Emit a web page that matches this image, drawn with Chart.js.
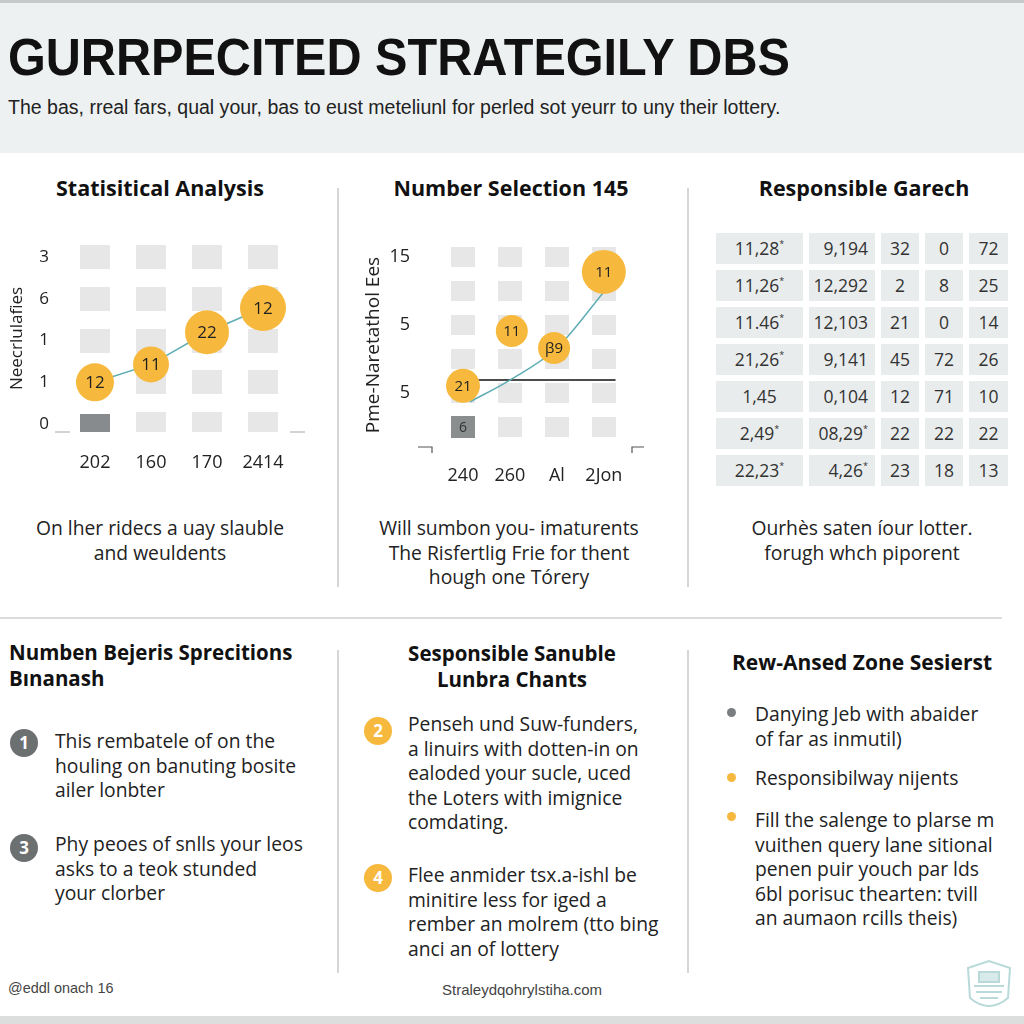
<!DOCTYPE html>
<html>
<head>
<meta charset="utf-8">
<script src="https://cdn.jsdelivr.net/npm/chart.js@4.4.0/dist/chart.umd.min.js"></script>
<style>
html, body { margin: 0; padding: 0; }
body { width: 1024px; height: 1024px; position: relative; overflow: hidden; background: #fff;
  font-family: "Open Sans", "Noto Sans", sans-serif; color: #222; }
.abs { position: absolute; white-space: nowrap; }
#header { left: 0; top: 0; width: 1024px; height: 153px; background: #eef1f1; border-top: 3px solid #c6caca; box-sizing: border-box; }
#title { left: 8px; top: 27px; font-family: "Liberation Sans", Arial, sans-serif; font-weight: bold; font-size: 52px; line-height: 60px; color: #111; transform-origin: 0 0; }
#subtitle { left: 8px; top: 95px; font-family: "Liberation Sans", Arial, sans-serif; font-size: 19.5px; line-height: 24px; color: #222; transform-origin: 0 0; }
.h { font-weight: 700; font-size: 21px; line-height: 25px; color: #111; }
.ht { font-size: 21.5px; }
.h2 { font-size: 20.5px; line-height: 26.2px; }
.p { font-size: 19.3px; line-height: 24.5px; color: #222; }
.c { text-align: center; }
.vline { width: 1.5px; background: #d6d6d6; }
.hline { height: 1.5px; background: #dcdcdc; }
.badge { width: 28px; height: 28px; border-radius: 50%; color: #fff; font-weight: 700; font-size: 17px; line-height: 28px; text-align: center; }
.dot { width: 9px; height: 9px; border-radius: 50%; }
#table { left: 716px; top: 233px; display: grid; grid-template-columns: 87px 66px 38px 38px 39px; grid-auto-rows: 31px; column-gap: 6px; row-gap: 6px; }
#table div { background: #e9ecec; font-size: 17.5px; line-height: 31px; color: #333; text-align: center; }
#table div.r { text-align: right; padding-right: 7px; }
#table sup { font-size: 9px; line-height: 0; vertical-align: baseline; position: relative; top: -8px; }
.foot { font-family: "Liberation Sans", Arial, sans-serif; font-size: 15px; line-height: 18px; color: #444; transform-origin: 0 0; }
canvas { position: absolute; }
</style>
</head>
<body>
<div id="header" class="abs"></div>
<div id="title" class="abs">GURRPECITED STRATEGILY DBS</div>
<div id="subtitle" class="abs">The bas, rreal fars, qual your, bas to eust meteliunl for perled sot yeurr to uny their lottery.</div>

<!-- column separators -->
<div class="abs vline" style="left:337px;top:188px;height:399px"></div>
<div class="abs vline" style="left:687px;top:188px;height:399px"></div>
<div class="abs hline" style="left:0;top:617px;width:1002px"></div>
<div class="abs vline" style="left:337px;top:650px;height:323px"></div>
<div class="abs vline" style="left:687px;top:650px;height:323px"></div>

<!-- top section titles -->
<div class="abs h ht c" style="left:0;width:320px;top:175px">Statisitical Analysis</div>
<div class="abs h ht c" style="left:351px;width:320px;top:175px">Number Selection 145</div>
<div class="abs h ht c" style="left:704px;width:320px;top:175px">Responsible Garech</div>

<canvas id="statChart" width="320" height="245" style="left:0;top:235px"></canvas>
<canvas id="selChart" width="330" height="265" style="left:345px;top:235px"></canvas>
<div id="table" class="abs"></div>

<div class="abs p c" style="left:-10px;width:340px;top:516px">On lher ridecs a uay slauble<br>and weuldents</div>
<div class="abs p c" style="left:339px;width:340px;top:516px">Will sumbon you- imaturents<br>The Risfertli&#609; Frie for thent<br>hough one Tórery</div>
<div class="abs p c" style="left:692px;width:340px;top:516px">Ourhès saten íour lotter.<br>forugh whch piporent</div>

<!-- bottom section -->
<div class="abs h h2" style="left:9px;top:639px">Numben Bejeris Sprecitions<br>Bınanash</div>
<div class="abs badge" style="left:10px;top:729px;background:#6c7071">1</div>
<div class="abs p" style="left:55px;top:729px">This rembatele of on the<br>houling on banuting bosite<br>ailer lonbter</div>
<div class="abs badge" style="left:10px;top:834px;background:#6c7071">3</div>
<div class="abs p" style="left:55px;top:832px">Phy peoes of snlls your leos<br>asks to a teok stunded<br>your clorber</div>

<div class="abs h h2 c" style="left:352px;width:320px;top:640px">Sesponsible Sanuble<br>Lunbra Chants</div>
<div class="abs badge" style="left:364px;top:717px;background:#f6b93e">2</div>
<div class="abs p" style="left:408px;top:712px">Penseh und Suw-funders,<br>a linuirs with dotten-in on<br>ealoded your sucle, uced<br>the Loters with imignice<br>comdating.</div>
<div class="abs badge" style="left:364px;top:864px;background:#f6b93e">4</div>
<div class="abs p" style="left:408px;top:863px">Flee anmider tsx.a-ishl be<br>minitire less for iged a<br>rember an molrem (tto bing<br>anci an of lottery</div>

<div class="abs h c" style="left:702px;width:320px;top:650px">Rew-Ansed Zone Sesierst</div>
<div class="abs dot" style="left:727px;top:708px;background:#7b7e80"></div>
<div class="abs p" style="left:755px;top:702px">Danying Jeb with abaider<br>of far as inmutil)</div>
<div class="abs dot" style="left:727px;top:773px;background:#f6b93e"></div>
<div class="abs p" style="left:755px;top:766px">Responsibilway nijents</div>
<div class="abs dot" style="left:727px;top:812px;background:#f6b93e"></div>
<div class="abs p" style="left:755px;top:808px">Fill the salenge to plarse m<br>vuithen query lane sitional<br>penen puir youch par lds<br>6bl porisuc thearten: tvill<br>an aumaon rcills theis)</div>

<!-- footer -->
<div id="footL" class="abs foot" style="left:8px;top:979px">@eddl onach 16</div>
<div id="footC" class="abs foot" style="left:442px;top:981px">Straleydqohrylstiha.com</div>
<svg class="abs" style="left:962px;top:958px" width="54" height="58" viewBox="0 0 54 58">
  <g fill="none" stroke="#a9d2d2" stroke-width="2" opacity="0.8">
    <path d="M6 10 L27 3 L48 10 L46 40 Q27 56 8 40 Z"/>
    <rect x="17" y="14" width="20" height="10" fill="#cfe6e6"/>
    <path d="M12 28 L42 28 M14 34 L40 34 M18 40 L36 40"/>
  </g>
</svg>
<div class="abs" style="left:0;top:1016px;width:1024px;height:8px;background:#dcdede"></div>

<script>
// ===== 데이터 =====
// Statistical Analysis chart
const statLabels = ['202', '160', '170', '2414'];
const statTicks = ['0', '1', '1', '6', '3'];
const statValues = [1.0, 1.43, 2.2, 2.78];
const statBubbleText = ['12', '11', '22', '12'];
const statBubbleSize = [19, 18, 22, 23];

// Number Selection chart
const selLabels = ['240', '260', 'Al', '2Jon'];
const selTickValues = [1, 3, 5];
const selTickLabels = ['5', '5', '15'];
const selRows = 6;
const selBubbleX = [0, 1.04, 1.94, 3];
const selBubbleY = [1.21, 2.82, 2.32, 4.56];
const selBubbleText = ['21', '11', 'β9', '11'];
const selBubbleSize = [17, 16, 16, 22];
const selCurveX = [0.15, 1, 2, 3];
const selCurveY = [0.74, 1.38, 2.32, 3.97];
const selLevelX = [0.3, 3.25];
const selLevel = 1.38;

// Responsible table columns
const tableCol1 = ['11,28*', '11,26*', '11.46*', '21,26*', '1,45', '2,49*', '22,23*'];
const tableCol2 = ['9,194', '12,292', '12,103', '9,141', '0,104', '08,29*', '4,26*'];
const tableCol3 = ['32', '2', '21', '45', '12', '22', '23'];
const tableCol4 = ['0', '8', '0', '72', '71', '22', '18'];
const tableCol5 = ['72', '25', '14', '26', '10', '22', '13'];

const ORANGE = '#f6b93e';
const TEAL = '#5fadb3';

Chart.defaults.font.family = '"Open Sans", "Noto Sans", sans-serif';
Chart.defaults.color = '#222';

// 텍스트 폭 맞추기
function fitWidth(id, w) {
  const el = document.getElementById(id);
  el.style.transform = 'scaleX(' + (w / el.offsetWidth) + ')';
}
fitWidth('title', 782);
fitWidth('subtitle', 772);
fitWidth('footL', 105);
fitWidth('footC', 160);

// ===== 표 =====
(function buildTable() {
  const table = document.getElementById('table');
  const sup = s => s.replace('*', '<sup>*</sup>');
  tableCol1.forEach((_, i) => {
    [tableCol1[i], tableCol2[i], tableCol3[i], tableCol4[i], tableCol5[i]].forEach((v, j) => {
      const cell = document.createElement('div');
      if (j === 1) cell.className = 'r';
      cell.innerHTML = sup(v);
      table.appendChild(cell);
    });
  });
})();

// 셀 이미지 (pointStyle)
function makeCell(w, h, color) {
  const c = document.createElement('canvas');
  c.width = w; c.height = h;
  const g = c.getContext('2d');
  g.fillStyle = color;
  g.fillRect(0, 0, w, h);
  return c;
}

// 원 안의 숫자
const bubbleTextPlugin = {
  id: 'bubbleText',
  afterDatasetsDraw(chart) {
    const ctx = chart.ctx;
    chart.data.datasets.forEach((ds, i) => {
      if (!ds.bubbleText) return;
      chart.getDatasetMeta(i).data.forEach((pt, j) => {
        ctx.save();
        ctx.font = ds.bubbleFont;
        ctx.fillStyle = ds.bubbleColor || '#222';
        ctx.textAlign = 'center';
        ctx.textBaseline = 'middle';
        ctx.fillText(ds.bubbleText[j], pt.x, pt.y + 1);
        ctx.restore();
      });
    });
  }
};

// 축 모서리 표시
const cornerStubs = {
  id: 'cornerStubs',
  afterDraw(chart, args, opts) {
    const { left, right, bottom } = chart.chartArea;
    const ctx = chart.ctx;
    ctx.save();
    ctx.strokeStyle = opts.color;
    ctx.lineWidth = opts.width;
    ctx.beginPath();
    if (opts.hook) {
      ctx.moveTo(left - 14, bottom); ctx.lineTo(left, bottom); ctx.lineTo(left, bottom + 6);
      ctx.moveTo(right, bottom + 6); ctx.lineTo(right, bottom); ctx.lineTo(right + 12, bottom);
    } else {
      ctx.moveTo(left - 6, bottom); ctx.lineTo(left + 9, bottom);
      ctx.moveTo(right - 7, bottom); ctx.lineTo(right + 8, bottom);
    }
    ctx.stroke();
    ctx.restore();
  }
};

function fixedAxis(size, horizontal) {
  return function (scale) {
    if (horizontal) { scale.height = size; scale.paddingLeft = 0; scale.paddingRight = 0; }
    else { scale.width = size; scale.paddingTop = 0; scale.paddingBottom = 0; }
  };
}

// ===== 차트 1 =====
const statCells = [];
statLabels.forEach((_, i) => {
  statTicks.forEach((_, j) => { if (i || j) statCells.push({ x: i, y: j }); });
});

new Chart(document.getElementById('statChart'), {
  type: 'line',
  data: {
    datasets: [{
      data: statValues.map((v, i) => ({ x: i, y: v })),
      borderColor: TEAL,
      borderWidth: 1.5,
      pointRadius: statBubbleSize,
      pointBackgroundColor: ORANGE,
      pointBorderWidth: 0,
      bubbleText: statBubbleText,
      bubbleFont: '17px "Open Sans"',
      clip: false,
      order: 0
    }, {
      type: 'scatter',
      data: [{ x: 0, y: 0 }],
      pointStyle: makeCell(30, 21, '#888b8d'),
      pointRadius: 12,
      order: 1
    }, {
      type: 'scatter',
      data: statCells,
      pointStyle: makeCell(30, 24, '#e7e7e7'),
      pointRadius: 12,
      order: 2
    }]
  },
  options: {
    responsive: false,
    animation: false,
    events: [],
    layout: { autoPadding: false, padding: { top: 10, right: 23, left: 0, bottom: 0 } },
    plugins: {
      legend: { display: false },
      tooltip: { enabled: false },
      cornerStubs: { color: '#c4c6c6', width: 1.5 }
    },
    scales: {
      x: {
        type: 'linear', min: -0.607, max: 3.607,
        grid: { display: false, drawTicks: false }, border: { display: false },
        afterBuildTicks: s => { s.ticks = statLabels.map((_, i) => ({ value: i })); },
        afterFit: fixedAxis(48, true),
        ticks: { padding: 20, font: { size: 18 }, callback: v => statLabels[Math.round(v)] }
      },
      y: {
        type: 'linear', min: -0.19, max: 4.29,
        grid: { display: false, drawTicks: false }, border: { display: false },
        afterBuildTicks: s => { s.ticks = statTicks.map((_, i) => ({ value: i })); },
        afterFit: fixedAxis(61, false),
        ticks: { padding: 12, font: { size: 17 }, callback: v => statTicks[Math.round(v)] },
        title: { display: true, text: 'Neecrlulafies', font: { size: 17 }, padding: { top: 7, bottom: 0 } }
      }
    }
  },
  plugins: [bubbleTextPlugin, cornerStubs]
});

// ===== 차트 2 =====
const selCells = [];
selLabels.forEach((_, i) => {
  for (let j = 0; j < selRows; j++) { if (i || j) selCells.push({ x: i, y: j }); }
});

new Chart(document.getElementById('selChart'), {
  type: 'line',
  data: {
    datasets: [{
      type: 'scatter',
      data: selBubbleX.map((x, i) => ({ x: x, y: selBubbleY[i] })),
      pointRadius: selBubbleSize,
      pointBackgroundColor: ORANGE,
      pointBorderWidth: 0,
      bubbleText: selBubbleText,
      bubbleFont: '500 15px "Open Sans"',
      clip: false,
      order: 0
    }, {
      data: selCurveX.map((x, i) => ({ x: x, y: selCurveY[i] })),
      borderColor: TEAL,
      borderWidth: 1.5,
      pointRadius: 0,
      cubicInterpolationMode: 'monotone',
      order: 1
    }, {
      data: selLevelX.map(x => ({ x: x, y: selLevel })),
      borderColor: '#111',
      borderWidth: 1.5,
      pointRadius: 0,
      order: 1
    }, {
      type: 'scatter',
      data: [{ x: 0, y: 0 }],
      pointStyle: makeCell(24, 22, '#8b8e8f'),
      pointRadius: 12,
      bubbleText: ['6'],
      bubbleFont: '14px "Open Sans"',
      bubbleColor: '#333',
      order: 2
    }, {
      type: 'scatter',
      data: selCells,
      pointStyle: makeCell(24, 20, '#e7e7e7'),
      pointRadius: 12,
      order: 3
    }]
  },
  options: {
    responsive: false,
    animation: false,
    events: [],
    layout: { autoPadding: false, padding: { top: 8, right: 43, left: 0, bottom: 0 } },
    plugins: {
      legend: { display: false },
      tooltip: { enabled: false },
      cornerStubs: { color: '#555', width: 1.2, hook: true }
    },
    scales: {
      x: {
        type: 'linear', min: -0.66, max: 3.6,
        grid: { display: false, drawTicks: false }, border: { display: false },
        afterBuildTicks: s => { s.ticks = selLabels.map((_, i) => ({ value: i })); },
        afterFit: fixedAxis(53, true),
        ticks: { padding: 18, font: { size: 18 }, callback: v => selLabels[Math.round(v)] }
      },
      y: {
        type: 'linear', min: -0.59, max: 5.41,
        grid: { display: false, drawTicks: false }, border: { display: false },
        afterBuildTicks: s => { s.ticks = selTickValues.map(v => ({ value: v })); },
        afterFit: fixedAxis(87, false),
        ticks: { padding: 22, font: { size: 18 }, callback: v => selTickLabels[selTickValues.indexOf(Math.round(v))] },
        title: { display: true, text: 'Pme-Naretathol Ees', font: { size: 19 }, padding: { top: 17, bottom: 0 } }
      }
    }
  },
  plugins: [bubbleTextPlugin, cornerStubs]
});
</script>
</body>
</html>
